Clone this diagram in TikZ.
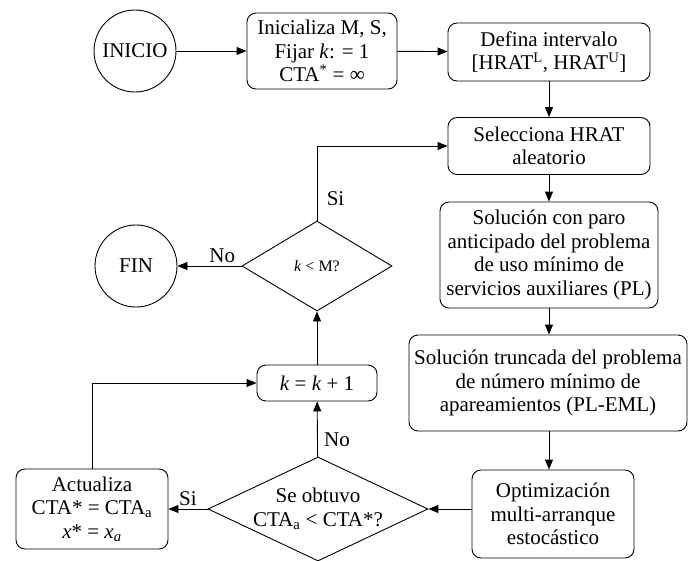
\documentclass[tikz,border=0pt]{standalone}
\usepackage{fontspec}
\setmainfont{Liberation Serif}
\usetikzlibrary{shapes.geometric,arrows.meta}
\begin{document}
\begin{tikzpicture}[x=1pt,y=-1pt,line width=0.9pt,
  every node/.style={font=\fontsize{21}{23.5}\selectfont},
  caja/.style={draw,rounded corners=9pt,align=center,inner sep=2pt},
  rombo/.style={draw,diamond,align=center,inner sep=0pt},
  circulo/.style={draw,circle,minimum size=82pt,inner sep=0pt},
  flecha/.style={-{Triangle[length=10pt,width=8pt]}}]
\path[use as bounding box,clip](0,0)rectangle(691,560);
\node[circulo](1)at(135,51){INICIO};
\node[caja,minimum width=150pt,minimum height=76pt](2)at(322,51){Inicializa M, S,\\ Fijar \textit{k}: = 1\\ CTA\textsuperscript{*} = ∞};
\node[caja,minimum width=202pt,minimum height=58pt](3)at(549,52){Defina intervalo\\ {[}HRAT\textsuperscript{L}, HRAT\textsuperscript{U}{]}};
\node[caja,minimum width=202pt,minimum height=57pt](4)at(549,146){Selecciona HRAT\\ aleatorio};
\node[caja,minimum width=218pt,minimum height=106pt](5)at(549,255){Solución con paro\\ anticipado del problema\\ de uso mínimo de\\ servicios auxiliares (PL)};
\node[caja,minimum width=278pt,minimum height=96pt](6)at(548,383){Solución truncada del problema\\ de número mínimo de\\ apareamientos (PL-EML)};
\node[caja,minimum width=162pt,minimum height=88pt](7)at(553,514){Optimización\\ multi-arranque\\ estocástico};
\node[rombo,aspect=2.1,minimum width=220pt,minimum height=104pt](8)at(318,509){Se obtuvo\\ CTA\textsubscript{a} < CTA*?};
\node[caja,minimum width=152pt,minimum height=80pt](9)at(92,509){Actualiza\\ CTA* = CTA\textsubscript{a}\\ \textit{x}* = \textit{x\textsubscript{a}}};
\node[caja,minimum width=120pt,minimum height=36pt](10)at(317,383){\textit{k} = \textit{k} + 1};
\node[rombo,aspect=1.67,minimum width=150pt,minimum height=90pt,font=\fontsize{16}{19}\selectfont](11)at(317,266){\textit{k} < M?};
\node[circulo](12)at(136,266){FIN};
% flujo principal
\draw[flecha](1)--(2);
\draw[flecha](2)--(3);
\draw[flecha](3)--(4);
\draw[flecha](4)--(4|-5.north);
\draw[flecha](5.south)--(5.south|-6.north);
\draw[flecha](5.south|-6.south)--(5.south|-7.north);
\draw[flecha](7.west|-8)--(8);
% decisiones
\draw[flecha](8)--(9)node[midway,above]{Si};
\draw[flecha](8)--(10)node[pos=0.3,right=3pt]{No};
\draw[flecha](9.north)|-(10);
\draw[flecha](10)--(11);
\draw[flecha](11)--(12)node[pos=0.3,above]{No};
\draw[flecha](11.north)|-(4)node[pos=0.15,right=6pt]{Si};
\end{tikzpicture}
\end{document}
